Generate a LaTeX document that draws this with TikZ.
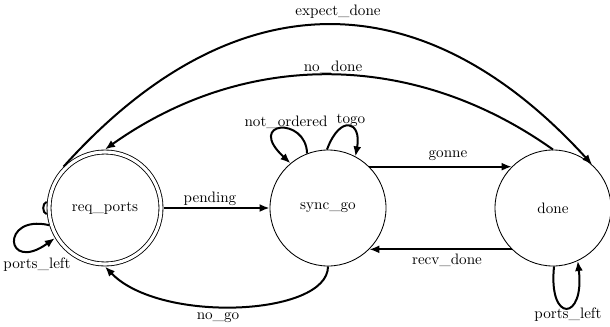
\documentclass[tikz,border=0pt]{standalone}
\usepackage{tikz}
\usetikzlibrary{arrows.meta}
\usetikzlibrary{positioning}

\begin{document}
\begin{tikzpicture}[x=0.7pt,y=0.7pt,font=\fontsize{10.6}{12}\selectfont,
    state/.style={draw,circle,line width=0.6pt,minimum size=81.2pt,inner sep=0pt},
    accept/.style={state,minimum size=78.4pt,double,double distance=2.2pt,outer sep=1.8pt},
    trans/.style={draw,line width=1.4pt,-{Latex[length=7pt,width=5.6pt]}}]

  \useasboundingbox (0,0) rectangle (610,326);

  \node [accept] (req_ports) at (105,118) {req\_ports};
  \node [state,on grid,right=156.1pt of req_ports] (sync_go) {sync\_go};
  \node [state,on grid,right=157.5pt of sync_go] (done) {done};

  \path [trans] (req_ports) -- (sync_go);
  \path [trans] (sync_go.45) -- (done.135);
  \path [trans] (done.225) -- (sync_go.315);

  % curved ones
  \path [trans]
    (sync_go.south) .. controls (328,10) and (160,2) .. (req_ports.south);
  \path [trans]
    (done.north) .. controls (413,276) and (245,276) .. (req_ports.north);
  \path [trans]
    (req_ports.135) .. controls (233,348) and (422,348) .. (done.48);

  % loops
  \path [trans]
    (sync_go.111) .. controls (306,210) and (245,205) .. (sync_go.130);
  \path [trans]
    (sync_go.91) .. controls (340,212) and (362,205) .. (sync_go.62);
  \path [trans]
    (req_ports.197) .. controls (0,112) and (5,52) .. (req_ports.211);
  \path [trans]
    (done.271) .. controls (548,2) and (585,5) .. (done.295);
  \draw [line width=1.4pt]
    (req_ports.174) .. controls (42,123) and (42,113) .. (req_ports.186);

  \node (lab_pending)  at (210,127) {pending};
  \node (lab_gonne)    at (448,170) {gonne};
  \node (lab_recv)     at (447,66)  {recv\_done};
  \node (lab_nogo)     at (218,8)   {no\_go};
  \node (lab_nodone)   at (333,259) {no\_done};
  \node (lab_expect)   at (338,314) {expect\_done};
  \node (lab_notord)   at (286,204) {not\_ordered};
  \node (lab_togo)     at (351,206) {togo};
  \node (lab_left_req) at (37,61)   {ports\_left};
  \node (lab_left_done) at (568,11) {ports\_left};
\end{tikzpicture}
\end{document}
